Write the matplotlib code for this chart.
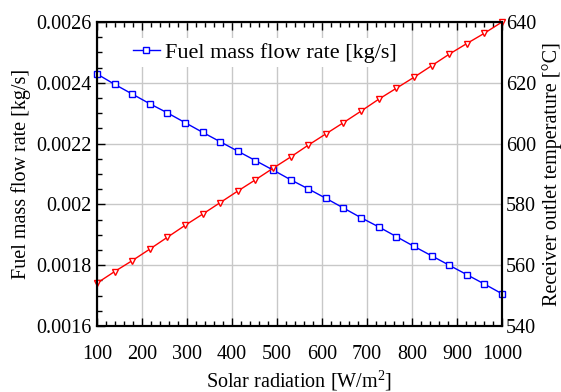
import matplotlib
matplotlib.use("Agg")
import matplotlib.pyplot as plt
from matplotlib.ticker import MultipleLocator

plt.rcParams['font.family'] = ['Liberation Serif', 'DejaVu Serif']
plt.rcParams['mathtext.fontset'] = 'custom'
plt.rcParams['mathtext.rm'] = 'Liberation Serif'
plt.rcParams['mathtext.it'] = 'Liberation Serif:italic'

# solar radiation steps [W/m2]
radiation = [100, 139.1, 178.3, 217.4, 256.5, 295.7, 334.8, 373.9, 413.0, 452.2,
             491.3, 530.4, 569.6, 608.7, 647.8, 687.0, 726.1, 765.2, 804.3, 843.5,
             882.6, 921.7, 960.9, 1000]

# fuel mass flow rate [kg/s]
fuel_flow = [0.002429, 0.002395, 0.002363, 0.002331, 0.002301, 0.002269, 0.002237,
             0.002206, 0.002175, 0.002144, 0.002113, 0.002081, 0.002051, 0.002020,
             0.001988, 0.001956, 0.001926, 0.001894, 0.001862, 0.001831, 0.001800,
             0.001769, 0.001738, 0.001706]

# receiver outlet temperature [C]
outlet_temp = [554.1, 557.9, 561.5, 565.3, 569.2, 573.1, 576.8, 580.6, 584.4, 588.1,
               591.9, 595.6, 599.5, 603.2, 606.9, 610.7, 614.6, 618.2, 621.8, 625.6,
               629.4, 632.9, 636.3, 640.0]

fs = 14.5

fig = plt.figure(figsize=(5.61, 3.92), dpi=100)
ax1 = fig.add_axes([0.1729, 0.1684, 0.7219, 0.7755])
ax2 = ax1.twinx()

ax1.grid(True, color='#c8c8c8', linewidth=1.0)
ax1.set_axisbelow(True)

ax1.plot(radiation, fuel_flow, '-', color='blue', linewidth=1.0, marker='s',
         markersize=5, markerfacecolor='white', markeredgecolor='blue',
         markeredgewidth=1.0, label='Fuel mass flow rate [kg/s]', clip_on=False)
ax2.plot(radiation, outlet_temp, '-', color='red', linewidth=1.0, marker='v',
         markersize=5, markerfacecolor='white', markeredgecolor='red',
         markeredgewidth=1.0, clip_on=False)

ax1.set_xlim(100, 1000)
ax1.set_ylim(0.0016, 0.0026)
ax2.set_ylim(540, 640)

ax1.xaxis.set_major_locator(MultipleLocator(100))
ax1.xaxis.set_minor_locator(MultipleLocator(20))
ax1.yaxis.set_minor_locator(MultipleLocator(0.00005))
ax1.set_yticks([0.0016, 0.0018, 0.002, 0.0022, 0.0024, 0.0026])
ax1.set_yticklabels(['0.0016', '0.0018', '0.002', '0.0022', '0.0024', '0.0026'])
ax2.yaxis.set_major_locator(MultipleLocator(20))

ax1.tick_params(axis='both', which='major', direction='in', length=6, width=1,
                labelsize=fs, top=True, right=False)
ax1.tick_params(axis='both', which='minor', direction='in', length=3.5, width=1,
                top=True, right=False)
ax1.tick_params(axis='x', which='major', pad=14)
ax1.tick_params(axis='y', which='major', pad=4)
ax2.tick_params(axis='y', which='both', length=0, labelsize=fs, pad=3)

for ax in (ax1, ax2):
    for sp in ax.spines.values():
        sp.set_linewidth(1.5)

ax1.set_xlabel('Solar radiation [W/m$^2$]', fontsize=fs, labelpad=3)
ax1.set_ylabel('Fuel mass flow rate [kg/s]', fontsize=fs, labelpad=4)
ax2.set_ylabel('Receiver outlet temperature [\u00b0C]', fontsize=fs, labelpad=4)

leg = ax1.legend(loc='center left', bbox_to_anchor=(0.078, 0.90), frameon=True,
                 fontsize=16, numpoints=1, handlelength=1.2, handletextpad=0.25,
                 borderpad=0.2, borderaxespad=0)
leg.get_frame().set_edgecolor('none')
leg.get_frame().set_facecolor('white')
leg.get_frame().set_alpha(1.0)

fig.savefig('out.png', dpi=100)
